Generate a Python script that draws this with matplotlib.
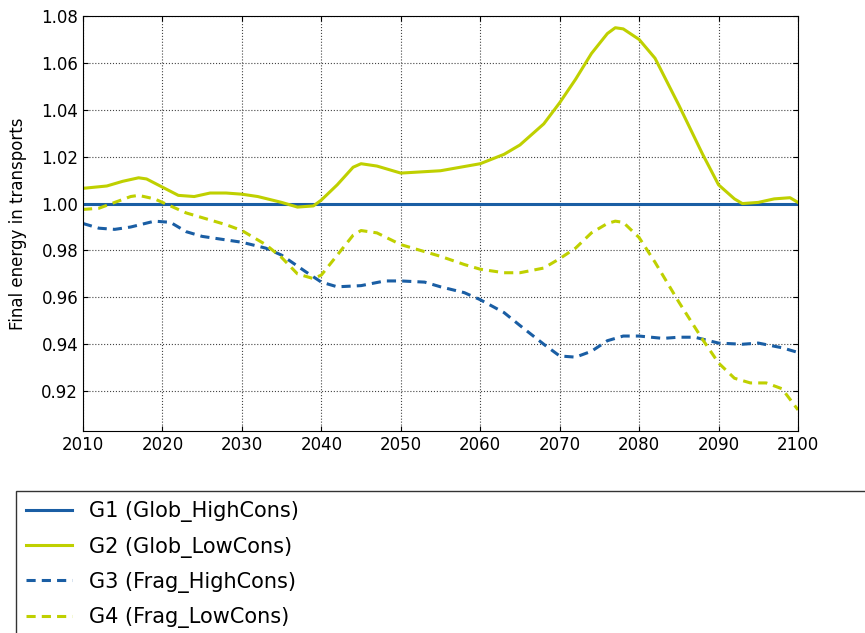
import matplotlib
matplotlib.use("Agg")
import matplotlib.pyplot as plt

years_g2 = [2010, 2013, 2015, 2017, 2018, 2020, 2022, 2024, 2026, 2028, 2030, 2032, 2035, 2037, 2039, 2040,
            2042, 2044, 2045, 2047, 2050, 2055, 2060, 2063, 2065, 2068, 2070, 2072, 2074, 2076, 2077,
            2078, 2080, 2082, 2085, 2088, 2090, 2092, 2093, 2095, 2097, 2099, 2100]
g2 = [1.0065, 1.0075, 1.0095, 1.011, 1.0105, 1.007, 1.0035, 1.003, 1.0045, 1.0045, 1.004, 1.003, 1.0005, 0.9985, 0.999, 1.0015,
      1.008, 1.0155, 1.017, 1.016, 1.013, 1.014, 1.017, 1.021, 1.025, 1.034, 1.043, 1.053, 1.064, 1.0725, 1.075,
      1.0745, 1.070, 1.062, 1.042, 1.021, 1.008, 1.002, 1.0, 1.0005, 1.002, 1.0025, 1.0005]

years_g3 = [2010, 2012, 2014, 2016, 2019, 2021, 2023, 2025, 2028, 2030, 2033, 2035, 2038, 2040, 2042, 2045,
            2048, 2050, 2053, 2055, 2058, 2060, 2063, 2065, 2068, 2070, 2072, 2074, 2076, 2078, 2080,
            2083, 2085, 2087, 2090, 2093, 2095, 2098, 2100]
g3 = [0.9915, 0.9895, 0.989, 0.990, 0.9925, 0.992, 0.988, 0.986, 0.9845, 0.9835, 0.981, 0.978, 0.971, 0.9665, 0.9645, 0.965,
      0.967, 0.967, 0.9665, 0.9645, 0.962, 0.959, 0.9535, 0.948, 0.940, 0.935, 0.9345, 0.937, 0.9415, 0.9435, 0.9435,
      0.9425, 0.943, 0.943, 0.9405, 0.940, 0.9405, 0.9385, 0.9365]

years_g4 = [2010, 2012, 2014, 2016, 2017, 2019, 2021, 2023, 2025, 2028, 2030, 2033, 2035, 2037, 2039, 2040,
            2042, 2044, 2045, 2047, 2050, 2053, 2055, 2058, 2060, 2063, 2065, 2068, 2070, 2072, 2074, 2076,
            2077, 2078, 2080, 2082, 2085, 2088, 2090, 2092, 2094, 2096, 2098, 2100]
g4 = [0.9975, 0.998, 1.0005, 1.003, 1.0035, 1.002, 0.999, 0.996, 0.994, 0.991, 0.9885, 0.9825, 0.977, 0.970, 0.968, 0.9695,
      0.978, 0.9865, 0.9885, 0.9875, 0.9825, 0.9795, 0.9775, 0.974, 0.972, 0.9705, 0.9705, 0.9725, 0.9765, 0.981, 0.9875, 0.9915,
      0.9925, 0.992, 0.9855, 0.975, 0.958, 0.942, 0.932, 0.9255, 0.9235, 0.9235, 0.921, 0.912]

blue = "#1a5ea4"
green = "#bfd000"

fig = plt.figure(figsize=(8.65, 6.33), dpi=100)
ax = fig.add_axes([83/865, 1-431/633, 715/865, 415/633])
ax.plot([2010, 2100], [1.0, 1.0], color=blue, lw=2.2, label="G1 (Glob_HighCons)")
ax.plot(years_g2, g2, color=green, lw=2.2, label="G2 (Glob_LowCons)")
ax.plot(years_g3, g3, color=blue, lw=2.2, ls=(0, (3, 2)), label="G3 (Frag_HighCons)")
ax.plot(years_g4, g4, color=green, lw=2.2, ls=(0, (3, 2)), label="G4 (Frag_LowCons)")
ax.set_xlim(2010, 2100)
ax.set_ylim(0.903, 1.08)
ax.set_xticks(range(2010, 2101, 10))
ax.set_yticks([0.92, 0.94, 0.96, 0.98, 1.00, 1.02, 1.04, 1.06, 1.08])
ax.yaxis.set_major_formatter(matplotlib.ticker.FormatStrFormatter("%.2f"))
ax.tick_params(direction="in", labelsize=12, top=True, right=True)
ax.grid(True, color="#444444", ls=":", lw=0.8)
ax.set_ylabel("Final energy in transports", fontsize=12, labelpad=10)
leg = fig.legend(loc="upper left", bbox_to_anchor=(16/865, 1-680/633, 880/865, 189/633),
                 mode="expand", fontsize=15, fancybox=False, edgecolor="black",
                 handlelength=2.2, labelspacing=0.68, borderpad=0.5, borderaxespad=0)
leg.get_frame().set_linewidth(1)
fig.savefig("out.png", dpi=100)
